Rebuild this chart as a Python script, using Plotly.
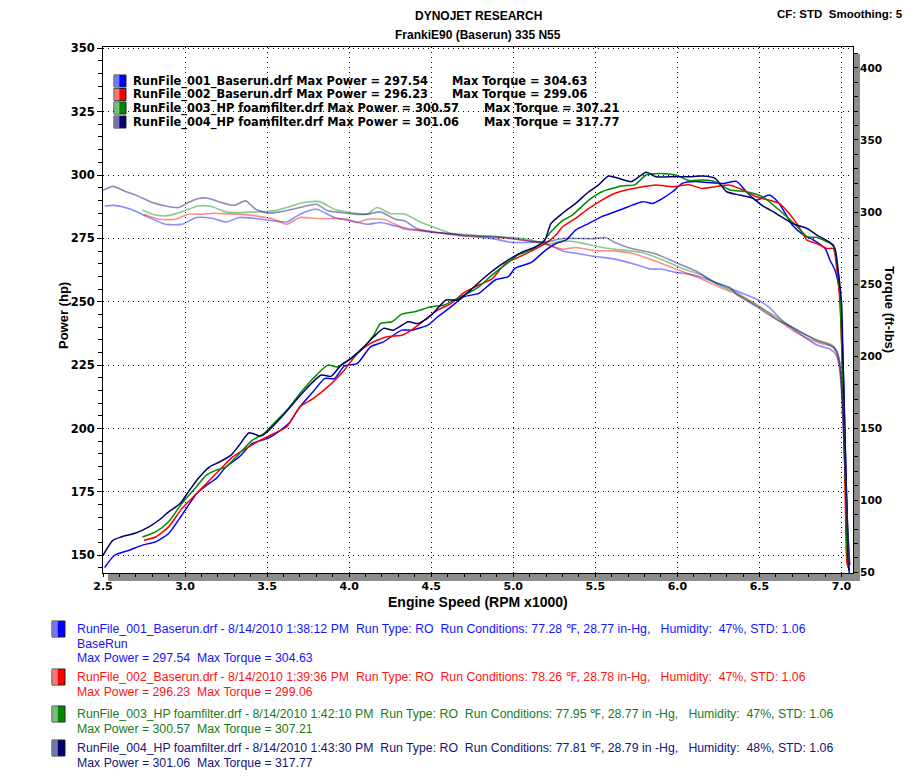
import plotly.graph_objects as go

# ---------------- data ----------------
blue_pwr_rpm = [2.51, 2.57, 2.66, 2.74, 2.82, 2.90, 2.98, 3.07, 3.13, 3.19, 3.25, 3.33, 3.41, 3.50, 3.58, 3.64, 3.70, 3.78, 3.85, 3.91, 3.97, 4.05, 4.13, 4.21, 4.32, 4.38, 4.48, 4.54, 4.62, 4.70, 4.79, 4.89, 4.97, 5.01, 5.11, 5.19, 5.26, 5.32, 5.38, 5.46, 5.54, 5.62, 5.70, 5.79, 5.85, 5.91, 5.97, 6.03, 6.11, 6.19, 6.28, 6.36, 6.42, 6.48, 6.56, 6.62, 6.70, 6.77, 6.83, 6.90, 6.93, 6.96, 6.99, 7.01, 7.02, 7.03, 7.04, 7.05]
blue_pwr = [145.1, 150.0, 152.0, 154.0, 155.3, 158.6, 165.8, 174.3, 177.6, 180.3, 184.9, 188.8, 194.1, 196.0, 199.3, 202.6, 208.6, 214.5, 219.7, 219.7, 224.6, 225.7, 232.2, 234.2, 238.8, 238.8, 240.8, 244.1, 248.0, 252.0, 253.3, 258.6, 259.9, 263.2, 265.5, 270.0, 273.0, 274.3, 278.3, 280.9, 283.6, 285.5, 287.5, 289.5, 288.8, 290.8, 293.4, 296.7, 297.4, 297.0, 296.7, 297.5, 293.4, 290.1, 292.1, 288.8, 280.3, 276.3, 274.3, 271.0, 266.4, 262.5, 253.3, 225.0, 200.0, 175.0, 152.0, 140.0]

red_pwr_rpm = [2.75, 2.82, 2.90, 2.98, 3.06, 3.13, 3.21, 3.29, 3.37, 3.46, 3.54, 3.62, 3.70, 3.78, 3.89, 3.97, 4.05, 4.13, 4.23, 4.32, 4.38, 4.46, 4.54, 4.62, 4.70, 4.79, 4.87, 4.95, 5.03, 5.11, 5.19, 5.26, 5.30, 5.38, 5.46, 5.54, 5.62, 5.70, 5.79, 5.87, 5.97, 6.07, 6.15, 6.23, 6.32, 6.40, 6.48, 6.56, 6.62, 6.68, 6.74, 6.79, 6.85, 6.91, 6.95, 6.97, 6.99, 7.005, 7.015, 7.022, 7.03, 7.035]
red_pwr = [155.9, 157.2, 161.2, 168.4, 173.7, 178.3, 183.6, 188.8, 192.1, 195.4, 198.0, 200.7, 208.6, 211.8, 217.6, 223.0, 229.6, 233.6, 236.2, 236.8, 238.8, 242.8, 246.7, 249.3, 253.6, 256.6, 259.0, 265.0, 267.5, 270.0, 272.8, 276.3, 279.6, 282.9, 286.8, 290.1, 292.8, 294.3, 295.4, 296.1, 295.4, 296.2, 294.7, 295.4, 296.0, 294.1, 291.4, 290.1, 288.8, 284.9, 279.6, 274.3, 273.0, 271.0, 271.0, 263.8, 250.0, 225.0, 200.0, 175.0, 150.0, 146.0]

green_pwr_rpm = [2.74, 2.82, 2.90, 2.98, 3.06, 3.13, 3.19, 3.25, 3.33, 3.41, 3.48, 3.54, 3.62, 3.70, 3.78, 3.87, 3.93, 4.01, 4.09, 4.15, 4.19, 4.26, 4.32, 4.40, 4.50, 4.58, 4.64, 4.70, 4.79, 4.87, 4.95, 5.03, 5.11, 5.17, 5.23, 5.30, 5.36, 5.46, 5.54, 5.66, 5.74, 5.81, 5.89, 5.99, 6.07, 6.15, 6.23, 6.32, 6.42, 6.52, 6.62, 6.72, 6.79, 6.85, 6.91, 6.95, 6.97, 6.99, 7.005, 7.015, 7.025, 7.035, 7.04]
green_pwr = [157.2, 159.2, 163.2, 170.4, 176.3, 181.6, 183.6, 184.9, 190.1, 195.4, 198.0, 202.0, 207.2, 213.8, 219.7, 225.0, 224.3, 227.6, 232.2, 236.8, 241.4, 242.1, 245.1, 246.1, 248.0, 248.7, 250.7, 252.6, 255.9, 260.5, 264.5, 268.5, 270.5, 273.0, 277.6, 282.0, 284.2, 290.1, 293.4, 295.7, 296.1, 300.0, 300.6, 300.0, 297.8, 298.0, 297.4, 294.1, 293.4, 291.4, 286.2, 280.3, 275.7, 275.4, 273.7, 272.4, 266.4, 253.3, 225.0, 200.0, 175.0, 150.0, 145.0]

navy_pwr_rpm = [2.50, 2.56, 2.61, 2.70, 2.78, 2.84, 2.90, 2.97, 3.02, 3.08, 3.15, 3.21, 3.28, 3.33, 3.39, 3.46, 3.50, 3.58, 3.66, 3.74, 3.83, 3.89, 3.95, 4.01, 4.09, 4.15, 4.21, 4.27, 4.36, 4.42, 4.50, 4.59, 4.66, 4.74, 4.81, 4.89, 4.97, 5.05, 5.13, 5.19, 5.23, 5.30, 5.38, 5.46, 5.52, 5.58, 5.64, 5.72, 5.81, 5.87, 5.95, 6.07, 6.15, 6.23, 6.30, 6.38, 6.46, 6.52, 6.60, 6.70, 6.79, 6.85, 6.93, 6.96, 6.98, 7.00, 7.01, 7.02, 7.03, 7.04, 7.045]
navy_pwr = [150.0, 155.9, 157.2, 158.8, 161.2, 163.8, 167.1, 170.4, 175.0, 180.3, 184.9, 186.8, 189.5, 193.4, 198.3, 197.0, 198.7, 204.0, 209.9, 215.8, 221.1, 220.6, 225.0, 227.6, 232.2, 236.2, 239.5, 238.8, 242.1, 241.4, 244.7, 250.7, 250.7, 254.6, 258.8, 263.0, 266.5, 269.5, 271.5, 274.0, 280.9, 284.9, 288.8, 293.4, 296.1, 299.6, 298.7, 297.4, 301.1, 299.3, 299.3, 299.3, 299.6, 298.7, 293.4, 292.1, 290.8, 287.8, 284.9, 280.9, 278.9, 276.3, 273.3, 271.0, 262.0, 250.0, 225.0, 200.0, 175.0, 150.0, 144.0]

blue_tq_rpm = [2.51, 2.57, 2.67, 2.78, 2.88, 2.98, 3.07, 3.17, 3.25, 3.33, 3.43, 3.54, 3.62, 3.70, 3.80, 3.91, 4.01, 4.11, 4.19, 4.28, 4.38, 4.50, 4.60, 4.68, 4.89, 4.99, 5.09, 5.17, 5.30, 5.40, 5.50, 5.62, 5.74, 5.84, 5.90, 5.99, 6.07, 6.15, 6.28, 6.36, 6.48, 6.56, 6.64, 6.72, 6.85, 6.93, 6.97, 6.99, 7.00, 7.01, 7.02, 7.03, 7.04, 7.05]
blue_tq = [304.2, 304.6, 301.9, 296.2, 291.5, 291.5, 296.2, 295.5, 293.1, 296.2, 295.5, 293.8, 293.1, 298.5, 301.9, 296.2, 293.8, 291.5, 292.7, 290.4, 288.0, 286.0, 285.0, 283.9, 281.2, 278.9, 278.9, 279.3, 273.0, 271.0, 269.1, 267.3, 263.8, 260.4, 260.4, 258.1, 256.9, 254.6, 248.8, 245.3, 239.6, 233.8, 224.5, 217.6, 207.7, 204.9, 200.3, 190.0, 175.0, 150.0, 125.0, 100.0, 75.0, 55.0]

red_tq_rpm = [2.75, 2.84, 2.94, 3.02, 3.11, 3.17, 3.25, 3.33, 3.43, 3.54, 3.62, 3.70, 3.80, 3.91, 3.99, 4.05, 4.11, 4.22, 4.28, 4.34, 4.45, 4.55, 4.68, 4.89, 5.09, 5.21, 5.30, 5.38, 5.50, 5.62, 5.74, 5.86, 5.99, 6.15, 6.26, 6.36, 6.48, 6.60, 6.72, 6.85, 6.95, 6.98, 7.00, 7.01, 7.02, 7.03, 7.04, 7.045]
red_tq = [298.5, 295.0, 295.0, 298.5, 298.5, 299.1, 298.8, 298.5, 297.3, 295.0, 291.5, 296.2, 295.5, 295.5, 295.0, 292.7, 295.0, 294.6, 291.5, 288.0, 287.0, 285.5, 283.4, 282.3, 280.0, 277.0, 274.2, 275.4, 273.2, 273.0, 270.8, 266.1, 260.4, 253.4, 247.7, 243.0, 236.1, 226.2, 216.5, 209.6, 206.1, 198.0, 180.0, 155.0, 125.0, 95.0, 70.0, 55.0]

green_tq_rpm = [2.74, 2.80, 2.88, 2.98, 3.08, 3.16, 3.25, 3.33, 3.43, 3.54, 3.62, 3.72, 3.82, 3.91, 4.01, 4.11, 4.17, 4.25, 4.34, 4.44, 4.52, 4.60, 4.68, 4.89, 5.09, 5.21, 5.30, 5.42, 5.54, 5.66, 5.78, 5.90, 6.03, 6.15, 6.26, 6.36, 6.48, 6.60, 6.72, 6.85, 6.95, 6.98, 7.00, 7.01, 7.02, 7.03, 7.04, 7.05]
green_tq = [301.5, 298.5, 297.3, 300.1, 304.2, 303.8, 300.1, 299.7, 300.1, 300.8, 303.1, 306.6, 307.2, 301.9, 299.7, 298.5, 303.1, 299.0, 298.5, 292.7, 289.3, 286.0, 283.9, 283.0, 281.2, 277.7, 280.0, 278.4, 275.4, 273.7, 271.9, 267.3, 260.8, 256.2, 248.8, 244.2, 235.4, 227.6, 218.3, 211.4, 207.2, 200.0, 185.0, 160.0, 130.0, 100.0, 75.0, 55.0]

navy_tq_rpm = [2.50, 2.56, 2.63, 2.71, 2.80, 2.88, 2.96, 3.02, 3.08, 3.14, 3.22, 3.30, 3.37, 3.43, 3.50, 3.58, 3.70, 3.80, 3.87, 3.95, 4.03, 4.11, 4.19, 4.28, 4.34, 4.41, 4.50, 4.60, 4.68, 4.81, 4.95, 5.09, 5.19, 5.30, 5.42, 5.50, 5.56, 5.62, 5.70, 5.79, 5.87, 5.99, 6.11, 6.23, 6.32, 6.36, 6.48, 6.60, 6.72, 6.85, 6.93, 6.97, 6.99, 7.00, 7.01, 7.02, 7.03, 7.04, 7.05]
navy_tq = [315.0, 317.8, 314.6, 311.2, 306.6, 304.2, 303.1, 306.6, 309.4, 309.6, 306.6, 304.7, 307.7, 301.9, 299.2, 300.1, 303.1, 305.4, 300.8, 299.7, 298.5, 298.5, 300.1, 295.0, 293.8, 288.6, 286.5, 285.0, 284.6, 283.4, 282.3, 280.0, 278.9, 281.6, 281.6, 281.5, 282.3, 278.9, 275.4, 273.0, 270.8, 265.0, 259.2, 251.1, 247.7, 243.0, 234.5, 225.7, 218.8, 210.7, 207.7, 203.7, 195.0, 180.0, 160.0, 130.0, 100.0, 75.0, 55.0]

run_names = ["RunFile_001_Baserun.drf", "RunFile_002_Baserun.drf",
             "RunFile_003_HP foamfilter.drf", "RunFile_004_HP foamfilter.drf"]
max_power = ["297.54", "296.23", "300.57", "301.06"]
max_torque = ["304.63", "299.06", "307.21", "317.77"]
run_times = ["1:38:12 PM", "1:39:36 PM", "1:42:10 PM", "1:43:30 PM"]
run_temp = ["77.28", "78.26", "77.95", "77.81"]
run_baro = ["28.77 in-Hg", "28.78 in-Hg", "28.77 in -Hg", "28.79 in -Hg"]
run_hum = ["47%", "47%", "47%", "48%"]
run_notes = ["BaseRun", "", "", ""]

x_ticks = [2.5, 3.0, 3.5, 4.0, 4.5, 5.0, 5.5, 6.0, 6.5, 7.0]

# ---------------- styling ----------------
line_col = ["#0000ff", "#ff0000", "#008a00", "#00006e"]
tq_col = ["rgba(0,0,255,0.45)", "rgba(255,0,0,0.45)", "rgba(0,138,0,0.45)", "rgba(0,0,110,0.45)"]
text_col = ["#1414ff", "#ff1414", "#1a7a1a", "#14147a"]

W, H = 921, 784
L, R, T, B = 103, 853, 47, 573


def P(px, py):
    return (px - L) / (R - L), (B - py) / (B - T)


fig = go.Figure()

pwr_sets = [(blue_pwr_rpm, blue_pwr), (red_pwr_rpm, red_pwr), (green_pwr_rpm, green_pwr), (navy_pwr_rpm, navy_pwr)]
tq_sets = [(blue_tq_rpm, blue_tq), (red_tq_rpm, red_tq), (green_tq_rpm, green_tq), (navy_tq_rpm, navy_tq)]

for i, (xs, ys) in enumerate(tq_sets):
    fig.add_trace(go.Scatter(x=xs, y=ys, yaxis="y2", mode="lines",
                             line=dict(color=tq_col[i], width=1.6, shape="spline", smoothing=0.6),
                             showlegend=False, hoverinfo="skip"))
for i, (xs, ys) in enumerate(pwr_sets):
    fig.add_trace(go.Scatter(x=xs, y=ys, mode="lines",
                             line=dict(color=line_col[i], width=1.5, shape="spline", smoothing=0.6),
                             showlegend=False, hoverinfo="skip"))

grid = dict(showgrid=True, gridcolor="black", gridwidth=1, griddash="1px,4px")

fig.update_layout(
    width=W, height=H,
    margin=dict(l=L, r=W - R, t=T, b=H - B, pad=0),
    paper_bgcolor="white", plot_bgcolor="white",
    xaxis=dict(range=[2.5, 7.07], tickmode="array", tickvals=x_ticks,
               ticktext=[f"{v:.1f}" for v in x_ticks],
               tickfont=dict(family="DejaVu Sans", size=11, color="black", weight="bold"),
               showline=True, linecolor="black", linewidth=1, mirror=True,
               ticks="outside", ticklen=3, tickcolor="black",
               minor=dict(dtick=0.1, tick0=2.5, ticks="outside", ticklen=3, tickcolor="black", showgrid=False),
               zeroline=False, **grid),
    yaxis=dict(range=[143, 350.5], tick0=150, dtick=25,
               tickfont=dict(family="DejaVu Sans", size=11.5, color="black", weight="bold"),
               showline=True, linecolor="black", linewidth=1, mirror=True,
               ticks="outside", ticklen=5, tickcolor="black",
               minor=dict(dtick=5, tick0=150, ticks="outside", ticklen=4, tickcolor="black", showgrid=False),
               zeroline=False, **grid),
    yaxis2=dict(range=[49.5, 414.5], tick0=50, dtick=50, overlaying="y", side="right",
                tickfont=dict(family="DejaVu Sans", size=10.5, color="black", weight="bold"),
                showgrid=False, zeroline=False,
                showline=True, linecolor="black", linewidth=1,
                ticks="outside", ticklen=4, tickcolor="black",
                minor=dict(dtick=10, tick0=50, ticks="outside", ticklen=4, tickcolor="black")),
)

# frame shadow (right and bottom)
fig.add_shape(type="rect", xref="paper", yref="paper",
              x0=P(R + 1, 0)[0], x1=P(R + 7, 0)[0], y0=P(0, 54)[1], y1=P(0, B + 8)[1],
              fillcolor="#8c8c8c", line=dict(width=0), layer="below")
fig.add_shape(type="rect", xref="paper", yref="paper",
              x0=P(L + 5, 0)[0], x1=P(R + 7, 0)[0], y0=P(0, B + 1)[1], y1=P(0, B + 8)[1],
              fillcolor="#8c8c8c", line=dict(width=0), layer="below")


def ann(px, py, text, size, color="black", family="Liberation Sans", bold=False,
        xanchor="left", angle=0):
    x, y = P(px, py)
    fig.add_annotation(x=x, y=y, xref="paper", yref="paper", text=text, showarrow=False,
                       xanchor=xanchor, yanchor="middle", textangle=angle,
                       font=dict(family=family, size=size, color=color,
                                 weight="bold" if bold else "normal"))


def icon(px0, py0, w, h, color):
    x0, y0 = P(px0, py0 + h)
    x1, y1 = P(px0 + w, py0)
    fig.add_shape(type="rect", xref="paper", yref="paper", x0=x0, x1=x1, y0=y0, y1=y1,
                  fillcolor=color, line=dict(color="#202020", width=1))
    xm = P(px0 + w * 0.45, 0)[0]
    fig.add_shape(type="rect", xref="paper", yref="paper", x0=x0, x1=xm, y0=y0, y1=y1,
                  fillcolor="rgba(255,255,255,0.45)", line=dict(width=0))


# titles
ann(478, 16, "DYNOJET RESEARCH", 12, bold=True, xanchor="center")
ann(478, 35, "FrankiE90 (Baserun) 335 N55", 12, bold=True, xanchor="center")
ann(905, 14, "CF: STD\u00a0 Smoothing: 5", 11.5, bold=True, xanchor="right")

# axis titles
ann(478, 602, "Engine Speed (RPM x1000)", 14, bold=True, xanchor="center")
ann(63, 316, "Power (hp)", 13, bold=True, xanchor="center", angle=-90)
ann(890, 310, "Torque (ft-lbs)", 13, bold=True, xanchor="center", angle=90)

# in-chart legend
leg_y = [81, 94.5, 108, 122]
torque_x = [450, 450, 482, 482]
for i in range(4):
    icon(114, leg_y[i] - 6, 12, 12, line_col[i])
    ann(131, leg_y[i], f"{run_names[i]} Max Power = {max_power[i]}", 11.4,
        family="DejaVu Sans", bold=True)
    ann(torque_x[i], leg_y[i], f"Max Torque = {max_torque[i]}", 11.4,
        family="DejaVu Sans", bold=True)

# bottom legend
blocks = [629, 677, 714, 748]
for i in range(4):
    y = blocks[i]
    icon(52, y - 8, 13, 16, line_col[i])
    line1 = (f"{run_names[i]} - 8/14/2010 {run_times[i]}\u00a0 Run Type: RO\u00a0 Run Conditions: "
             f"{run_temp[i]} \u2109, {run_baro[i]},\u00a0\u00a0 Humidity:\u00a0 {run_hum[i]}, STD: 1.06")
    ann(75, y, line1, 12.3, color=text_col[i], family="Liberation Sans")
    yy = y + 14.5
    if run_notes[i]:
        ann(75, yy, run_notes[i], 12.3, color=text_col[i], family="Liberation Sans")
        yy += 14.5
    ann(75, yy, f"Max Power = {max_power[i]}\u00a0 Max Torque = {max_torque[i]}", 12.3,
        color=text_col[i], family="Liberation Sans")

fig.write_html("out.html", config={"displayModeBar": False},
               post_script="document.body.style.margin='0';")
